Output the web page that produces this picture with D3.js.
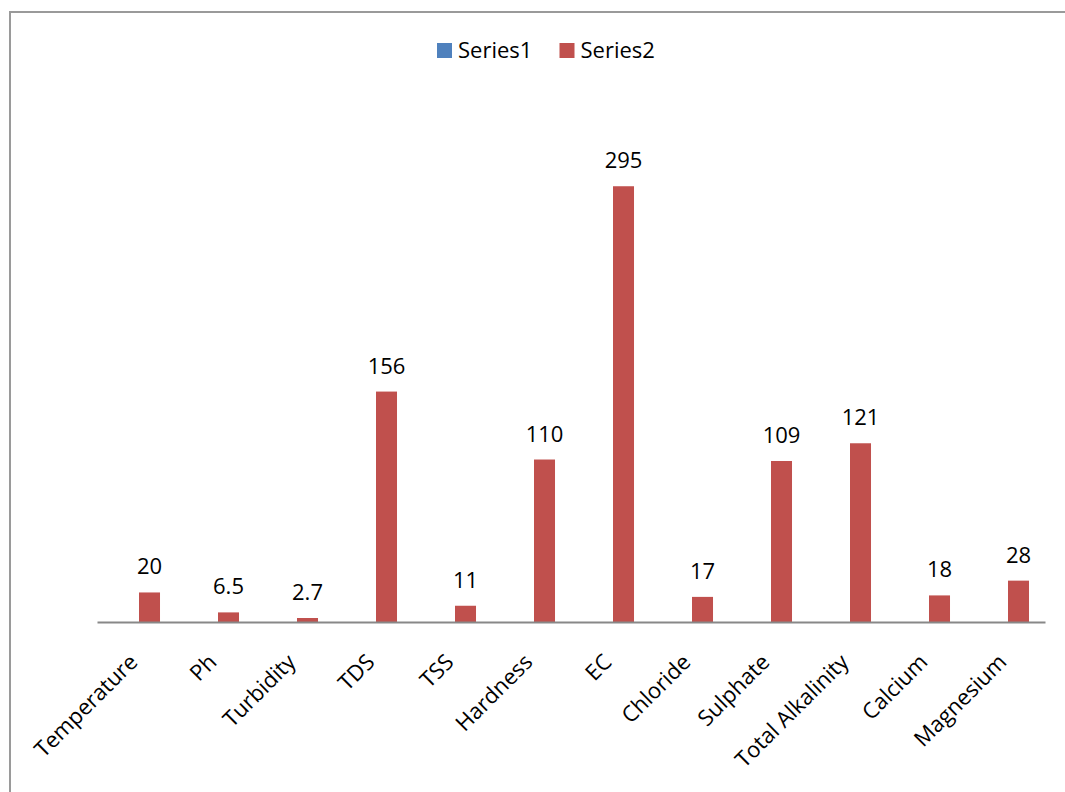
<!DOCTYPE html>
<html>
<head>
<meta charset="utf-8">
<script src="https://cdn.jsdelivr.net/npm/d3@7/dist/d3.min.js"></script>
<style>
  html, body { margin: 0; padding: 0; background: #fff; overflow: hidden; }
  svg { display: block; }
  text { font-family: "Open Sans", "Noto Sans", sans-serif; fill: #000; }
</style>
</head>
<body>
<svg id="chart" width="1065" height="792"></svg>
<script>
// Water quality parameters
const categories = ["Temperature", "Ph", "Turbidity", "TDS", "TSS", "Hardness", "EC",
  "Chloride", "Sulphate", "Total Alkalinity", "Calcium", "Magnesium"];
const seriesNames = ["Series1", "Series2"];
const series1 = [null, null, null, null, null, null, null, null, null, null, null, null];
const series2 = [20, 6.5, 2.7, 156, 11, 110, 295, 17, 109, 121, 18, 28];
const colors = ["#4F81BD", "#C0504D"];
const yMax = 350;

const svg = d3.select("#chart");
const W = 1065, H = 792;

// outer chart frame (top and left edges fall inside the view)
svg.append("path")
  .attr("d", `M${W + 5},12 H10 V${H + 5}`)
  .attr("fill", "none").attr("stroke", "#9a9a9a").attr("stroke-width", 2);

const plot = { left: 97, right: 1045, top: 105, bottom: 622 };

const x0 = d3.scaleBand().domain(categories).range([plot.left, plot.right]).padding(0);
const x1 = d3.scaleBand().domain(seriesNames).range([0, x0.bandwidth()])
  .paddingInner(0.1923).paddingOuter(0.615);
const y = d3.scaleLinear().domain([0, yMax]).range([plot.bottom, plot.top]);

const data = categories.map((c, i) => ({ cat: c, values: [series1[i], series2[i]] }));

// bars
const groups = svg.append("g").selectAll("g").data(data).join("g")
  .attr("transform", d => `translate(${x0(d.cat)},0)`);

groups.selectAll("rect")
  .data(d => d.values.map((v, k) => ({ name: seriesNames[k], v, k })).filter(e => e.v != null))
  .join("rect")
  .attr("x", e => x1(e.name))
  .attr("width", x1.bandwidth())
  .attr("y", e => y(e.v))
  .attr("height", e => y(0) - y(e.v))
  .attr("fill", e => colors[e.k]);

// value labels
groups.selectAll("text.val")
  .data(d => d.values.map((v, k) => ({ name: seriesNames[k], v, k })).filter(e => e.v != null))
  .join("text")
  .attr("class", "val")
  .attr("x", e => x1(e.name) + x1.bandwidth() / 2)
  .attr("y", e => y(e.v) - 18)
  .attr("text-anchor", "middle")
  .attr("font-size", 22)
  .text(e => e.v);

// category axis
const axis = svg.append("g")
  .attr("transform", `translate(0,${plot.bottom})`)
  .call(d3.axisBottom(x0).tickSize(0).tickPadding(0));
axis.select(".domain").attr("stroke", "#888").attr("stroke-width", 2);
axis.selectAll(".tick text")
  .attr("font-size", 22)
  .attr("font-family", "\"Open Sans\", sans-serif")
  .attr("fill", "#000")
  .attr("text-anchor", "end")
  .attr("y", 0).attr("dy", "0.35em")
  .attr("transform", "translate(-3,36) rotate(-45)");

// legend
const legend = svg.append("g").attr("transform", "translate(437,43)");
const items = legend.selectAll("g").data(seriesNames).join("g")
  .attr("transform", (d, i) => `translate(${i * 122.5},0)`);
items.append("rect").attr("width", 15).attr("height", 15).attr("fill", (d, i) => colors[i]);
items.append("text").attr("x", 21).attr("y", 7.5).attr("dy", "0.35em")
  .attr("font-size", 22).text(d => d);
</script>
</body>
</html>
